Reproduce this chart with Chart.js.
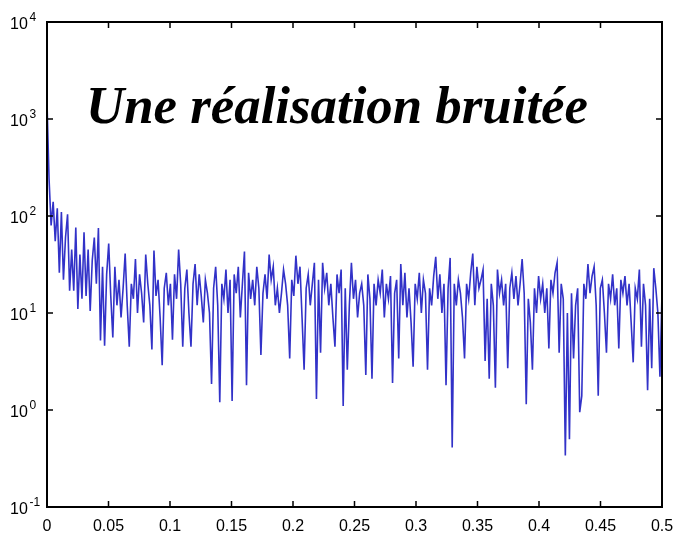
<!DOCTYPE html>
<html>
<head>
<meta charset="utf-8">
<script src="https://cdn.jsdelivr.net/npm/chart.js@4/dist/chart.umd.min.js"></script>
<style>
  html, body { margin: 0; padding: 0; background: #fff; }
</style>
</head>
<body>
<canvas id="plot" width="675" height="533"></canvas>
<script>
// valeurs (densité spectrale, échelle log)
const valeurs = [
  1500, 240, 80, 140, 55, 120, 26, 110, 22, 60, 104, 17, 45, 17, 76, 11, 40, 14, 68, 15,
  45, 10.5, 35, 60, 20, 75, 5.2, 30, 4.6, 25, 52, 15, 5.6, 30, 12, 22, 9, 18, 41, 12,
  4.5, 20, 14, 36, 10, 25, 16, 8, 40, 20, 12, 4.2, 44, 15, 22, 9, 2.9, 18, 26, 12,
  20, 5.3, 25, 14, 45, 20, 4.5, 18, 28, 10, 4.5, 20, 32, 12, 25, 15, 8, 22, 16, 10,
  1.85, 18, 30, 12, 1.2, 20, 14, 28, 10, 22, 1.24, 25, 16, 30, 9, 20, 43, 1.8, 26, 14,
  22, 12, 30, 18, 3.7, 16, 25, 14, 40, 22, 30, 12, 18, 10, 16, 28, 20, 12, 3.4, 22,
  15, 39, 20, 30, 9, 2.6, 18, 25, 12, 20, 33, 1.3, 22, 3.9, 33, 18, 26, 12, 20, 9,
  4.5, 25, 16, 28, 1.1, 18, 2.6, 12, 33, 14, 22, 9, 16, 20, 12, 2.3, 25, 14, 2.1, 20,
  12, 22, 16, 28, 9, 20, 14, 24, 1.9, 16, 22, 3.4, 32, 12, 26, 9, 18, 8, 2.8, 20,
  14, 26, 10, 22, 16, 2.6, 18, 12, 24, 38, 14, 25, 10, 20, 1.8, 18, 37, 0.41, 20, 12,
  22, 16, 9, 3.4, 20, 14, 26, 41, 12, 30, 18, 22, 28, 3.2, 14, 2.1, 20, 12, 1.7, 28,
  16, 22, 12, 20, 2.7, 18, 26, 14, 24, 12, 20, 36, 16, 1.15, 14, 8, 2.6, 18, 10, 24,
  14, 20, 10, 18, 4.3, 22, 16, 26, 33, 3.9, 20, 14, 0.34, 10, 0.5, 16, 3.4, 12, 18, 0.95,
  1.4, 20, 14, 32, 16, 24, 30, 12, 1.4, 18, 22, 10, 3.9, 20, 14, 25, 12, 18, 4.3, 22,
  16, 24, 12, 20, 8, 3.1, 18, 14, 28, 4.5, 20, 12, 1.6, 14, 2.7, 29, 18, 10, 2.2, 16
];

// fréquences réduites de 0 à 0.5
const fMax = 0.5;
const frequences = valeurs.map((v, k) => k * fMax / (valeurs.length - 1));

const xTicks = [0, 0.05, 0.1, 0.15, 0.2, 0.25, 0.3, 0.35, 0.4, 0.45, 0.5];
const xTickLabels = ['0', '0.05', '0.1', '0.15', '0.2', '0.25', '0.3', '0.35', '0.4', '0.45', '0.5'];
const yExposants = [-1, 0, 1, 2, 3, 4];
const titre = 'Une réalisation bruitée';

// cadre, graduations et textes
const axes = {
  id: 'axes',
  afterDraw(chart) {
    const ctx = chart.ctx;
    const a = chart.chartArea;
    const x = chart.scales.x;
    const y = chart.scales.y;
    ctx.save();
    ctx.strokeStyle = '#000';
    ctx.fillStyle = '#000';
    ctx.lineWidth = 2;
    ctx.strokeRect(a.left, a.top, a.right - a.left, a.bottom - a.top);

    ctx.lineWidth = 1.5;
    ctx.font = '16px "Liberation Sans", Arial, sans-serif';
    ctx.textAlign = 'center';
    ctx.textBaseline = 'alphabetic';
    xTicks.forEach((v, i) => {
      const px = x.getPixelForValue(v);
      ctx.beginPath();
      ctx.moveTo(px, a.bottom); ctx.lineTo(px, a.bottom - 6);
      ctx.moveTo(px, a.top); ctx.lineTo(px, a.top + 6);
      ctx.stroke();
      ctx.fillText(xTickLabels[i], px, a.bottom + 24);
    });

    ctx.textAlign = 'left';
    yExposants.forEach(e => {
      const py = y.getPixelForValue(Math.pow(10, e));
      ctx.beginPath();
      ctx.moveTo(a.left, py); ctx.lineTo(a.left + 6, py);
      ctx.moveTo(a.right, py); ctx.lineTo(a.right - 6, py);
      ctx.stroke();
      ctx.font = '16px "Liberation Sans", Arial, sans-serif';
      ctx.fillText('10', 10, py + 7);
      ctx.font = '12px "Liberation Sans", Arial, sans-serif';
      ctx.fillText(String(e), 29.5, py - 1);
    });

    ctx.font = 'bold italic 53px "Liberation Serif", "Times New Roman", serif';
    ctx.fillText(titre, 86, 123, 502);
    ctx.restore();
  }
};

let plotRef = document.getElementById('plot');
let config = {
  type: 'line',
  data: {
    datasets: [
      {
        data: valeurs.map((v, k) => ({ x: frequences[k], y: v })),
        borderColor: 'rgb(50, 50, 200)',
        borderWidth: 1.6,
        pointRadius: 0,
        tension: 0,
        fill: false
      }
    ]
  },
  options: {
    responsive: false,
    animation: false,
    events: [],
    layout: { padding: { left: 47, top: 22, right: 13, bottom: 26 } },
    plugins: { legend: { display: false }, tooltip: { enabled: false } },
    scales: {
      x: { type: 'linear', min: 0, max: fMax, display: false },
      y: { type: 'logarithmic', min: 0.1, max: 10000, display: false }
    }
  },
  plugins: [axes]
};

let chart = new Chart(plotRef, config);
</script>
</body>
</html>
